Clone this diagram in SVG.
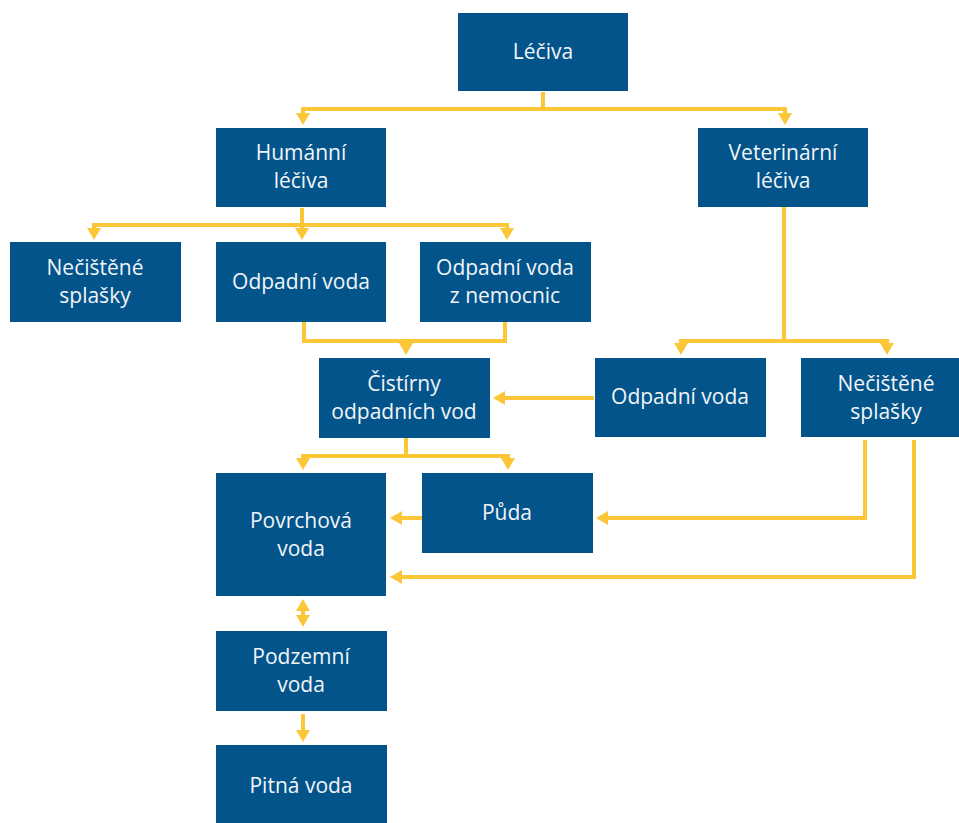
<svg xmlns="http://www.w3.org/2000/svg" width="959" height="823" viewBox="0 0 959 823">
<style>
.box{fill:#02548A}
.t{font-family:"Open Sans","Noto Sans",sans-serif;font-size:21px;fill:#F2F5F8;text-anchor:middle}
.c{fill:none;stroke:#FCC737;stroke-width:4;stroke-linejoin:miter}
.a{marker-end:url(#ah)}
.aa{marker-start:url(#ah);marker-end:url(#ah)}
</style>
<defs>
<marker id="ah" markerUnits="userSpaceOnUse" markerWidth="13" markerHeight="14" viewBox="0 0 12 14" refX="8" refY="7" orient="auto-start-reverse">
<path d="M0,0 L12,7 L0,14 z" fill="#FCC737"/>
</marker>
</defs>
<rect width="959" height="823" fill="#FFFFFF"/>
<g id="connectors">
<path class="c" d="M543,92 V109"/>
<path class="c aa" d="M303,121 V109 H785 V121"/>
<path class="c" d="M302,208 V225"/>
<path class="c aa" d="M94,236 V225 H507 V236"/>
<path class="c a" d="M302,225 V236"/>
<path class="c" d="M304,322 V341 H505 V322"/>
<path class="c a" d="M406,341 V351"/>
<path class="c" d="M784,207 V341"/>
<path class="c aa" d="M681,351 V341 H887 V351"/>
<path class="c a" d="M594,398 H497"/>
<path class="c" d="M406,438 V456"/>
<path class="c aa" d="M303,466 V456 H508 V466"/>
<path class="c a" d="M422,518 H394"/>
<path class="c a" d="M865,440 V518 H600"/>
<path class="c a" d="M914,440 V577 H394"/>
<path class="c aa" d="M303,603 V623"/>
<path class="c a" d="M303,714 V738"/>
</g>
<g id="lecinva"><rect class="box" x="458" y="13" width="170" height="78"/><text class="t" x="543" y="59">Léčiva</text></g>
<g id="humanni"><rect class="box" x="216" y="128" width="170" height="79"/><text class="t" x="301" y="160">Humánní</text><text class="t" x="301" y="188">léčiva</text></g>
<g id="veterinarni"><rect class="box" x="698" y="128" width="170" height="79"/><text class="t" x="783" y="160">Veterinární</text><text class="t" x="783" y="188">léčiva</text></g>
<g id="necistene-h"><rect class="box" x="10" y="242" width="171" height="80"/><text class="t" x="95" y="275">Nečištěné</text><text class="t" x="95" y="303">splašky</text></g>
<g id="odpadni-h"><rect class="box" x="216" y="242" width="170" height="80"/><text class="t" x="301" y="289">Odpadní voda</text></g>
<g id="nemocnice"><rect class="box" x="420" y="242" width="171" height="80"/><text class="t" x="505" y="275">Odpadní voda</text><text class="t" x="505" y="303">z nemocnic</text></g>
<g id="cistirny"><rect class="box" x="319" y="358" width="171" height="80"/><text class="t" x="404" y="391">Čistírny</text><text class="t" x="404" y="419">odpadních vod</text></g>
<g id="odpadni-v"><rect class="box" x="595" y="358" width="171" height="79"/><text class="t" x="680" y="404">Odpadní voda</text></g>
<g id="necistene-v"><rect class="box" x="801" y="358" width="171" height="79"/><text class="t" x="886" y="391">Nečištěné</text><text class="t" x="886" y="419">splašky</text></g>
<g id="povrchova"><rect class="box" x="216" y="473" width="170" height="123"/><text class="t" x="301" y="528">Povrchová</text><text class="t" x="301" y="556">voda</text></g>
<g id="puda"><rect class="box" x="422" y="473" width="171" height="80"/><text class="t" x="507" y="520">Půda</text></g>
<g id="podzemni"><rect class="box" x="216" y="631" width="171" height="80"/><text class="t" x="301" y="664">Podzemní</text><text class="t" x="301" y="692">voda</text></g>
<g id="pitna"><rect class="box" x="216" y="745" width="171" height="78"/><text class="t" x="301" y="793">Pitná voda</text></g>
</svg>
